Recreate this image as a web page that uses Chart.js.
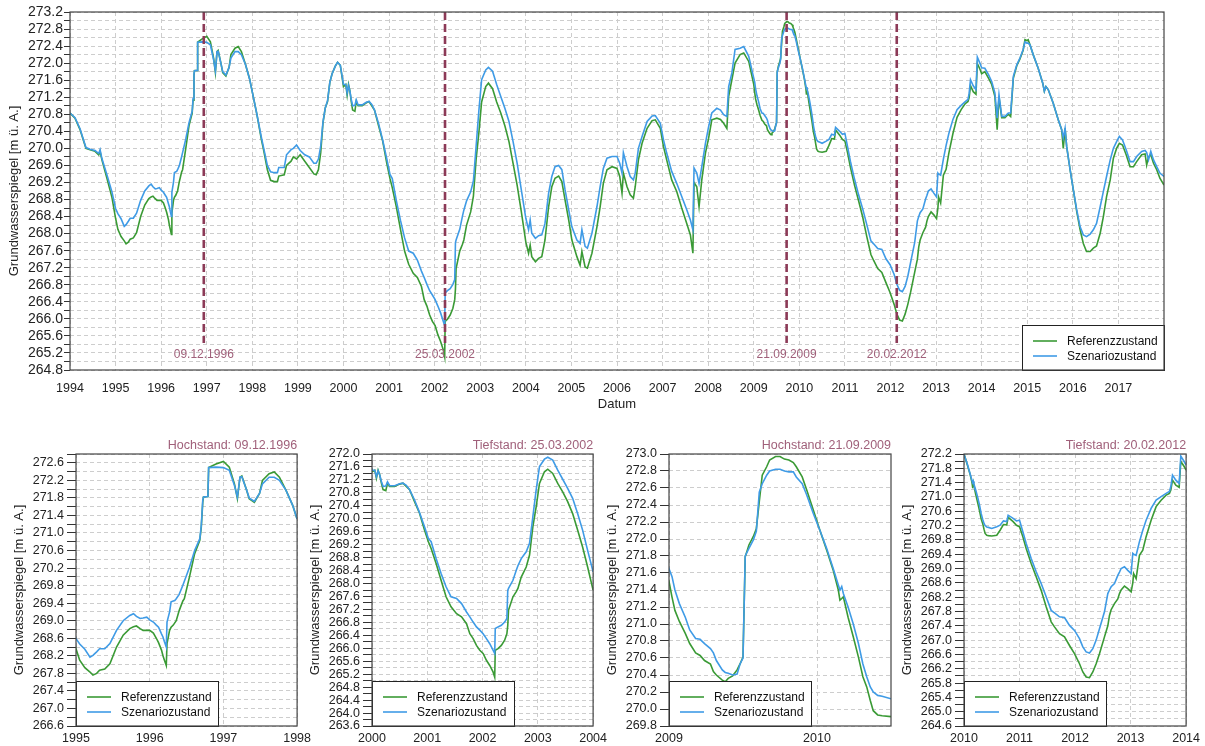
<!DOCTYPE html>
<html><head><meta charset="utf-8">
<script src="https://cdn.jsdelivr.net/npm/chart.js@4.4.1/dist/chart.umd.min.js"></script>
<style>
html,body{margin:0;padding:0;background:#fff;}
body{width:1205px;height:746px;position:relative;overflow:hidden;}
canvas{position:absolute;}
</style></head><body>
<canvas id="main" style="left:0px;top:0px" width="1205" height="420"></canvas>
<canvas id="p0" style="left:0px;top:430px" width="316" height="316"></canvas>
<canvas id="p1" style="left:296px;top:430px" width="316" height="316"></canvas>
<canvas id="p2" style="left:593px;top:430px" width="316" height="316"></canvas>
<canvas id="p3" style="left:888px;top:430px" width="317" height="316"></canvas>
<script>
// ---------------- DATA ----------------
const seriesNames = ['Referenzzustand', 'Szenariozustand'];
const yTitle = 'Grundwasserspiegel [m ü. A.]';
const xTitle = 'Datum';

const dates = [
1994.00,1994.11,1994.22,1994.29,1994.35,1994.44,1994.55,1994.63,1994.66,1994.70,1994.81,1994.92,
1995.00,1995.05,1995.12,1995.19,1995.23,1995.28,1995.32,1995.39,1995.46,1995.55,1995.64,1995.73,1995.78,1995.82,1995.87,1995.91,1995.96,
1996.00,1996.05,1996.09,1996.12,1996.16,1996.18,1996.20,1996.225,1996.235,1996.27,1996.29,1996.32,1996.34,1996.36,1996.40,1996.45,1996.47,1996.54,1996.61,1996.68,1996.70,1996.72,1996.73,1996.79,1996.80,1996.90,
1997.00,1997.08,1997.15,1997.19,1997.225,1997.25,1997.31,1997.35,1997.42,1997.49,1997.53,1997.62,1997.69,1997.76,1997.85,1997.94,
1998.00,1998.10,1998.20,1998.25,1998.33,1998.40,1998.48,1998.55,1998.58,1998.70,1998.75,1998.85,1998.90,1998.97,
1999.05,1999.15,1999.25,1999.35,1999.40,1999.45,1999.50,1999.55,1999.60,1999.65,1999.70,1999.75,1999.82,1999.87,1999.93,
2000.00,2000.05,2000.08,2000.11,2000.14,2000.17,2000.20,2000.25,2000.28,2000.32,2000.41,2000.50,2000.56,2000.62,2000.68,2000.77,2000.86,2000.95,
2001.02,2001.07,2001.16,2001.25,2001.34,2001.43,2001.53,2001.62,2001.71,2001.77,2001.83,2001.89,2001.95,
2002.01,2002.07,2002.13,2002.19,2002.22,2002.23,2002.28,2002.34,2002.40,2002.44,2002.456,2002.47,2002.55,2002.61,2002.64,2002.70,2002.79,2002.85,2002.91,2002.97,
2003.03,2003.12,2003.18,2003.27,2003.36,2003.45,2003.54,2003.63,2003.72,2003.81,2003.90,
2004.00,2004.06,2004.095,2004.13,2004.21,2004.28,2004.35,2004.42,2004.50,2004.57,2004.64,2004.72,2004.79,2004.86,2004.94,
2005.01,2005.12,2005.19,2005.23,2005.30,2005.35,2005.45,2005.56,2005.63,2005.70,2005.78,2005.89,
2006.00,2006.06,2006.11,2006.14,2006.22,2006.29,2006.36,2006.40,2006.47,2006.55,2006.66,2006.77,2006.84,2006.95,
2007.02,2007.09,2007.20,2007.31,2007.42,2007.53,2007.61,2007.665,2007.69,2007.75,2007.80,2007.86,2007.94,
2008.01,2008.08,2008.19,2008.27,2008.34,2008.41,2008.45,2008.52,2008.59,2008.70,2008.78,2008.89,
2009.00,2009.02,2009.04,2009.07,2009.11,2009.14,2009.18,2009.21,2009.24,2009.28,2009.30,2009.32,2009.36,2009.38,2009.40,2009.43,2009.46,2009.48,2009.50,2009.515,2009.54,2009.57,2009.59,2009.61,2009.63,2009.66,2009.68,2009.72,2009.75,2009.78,2009.81,2009.84,2009.86,2009.90,2009.93,2009.975,
2010.02,2010.065,2010.11,2010.144,2010.155,2010.167,2010.178,2010.21,2010.245,2010.28,2010.31,2010.336,2010.36,2010.38,2010.41,2010.44,2010.50,2010.59,2010.65,2010.71,2010.77,2010.795,2010.885,2010.945,
2011.00,2011.06,2011.12,2011.21,2011.30,2011.39,2011.48,2011.57,2011.63,2011.72,2011.81,2011.90,2011.99,
2012.08,2012.14,2012.20,2012.26,2012.32,2012.38,2012.44,2012.53,2012.59,2012.62,2012.65,2012.71,2012.77,2012.80,2012.83,2012.89,2012.95,
2013.01,2013.04,2013.055,2013.10,2013.16,2013.22,2013.28,2013.37,2013.46,2013.55,2013.64,2013.70,2013.725,2013.755,2013.815,2013.875,2013.905,2013.965,
2014.00,2014.07,2014.15,2014.22,2014.29,2014.34,2014.38,2014.44,2014.51,2014.585,2014.636,2014.695,2014.77,2014.84,2014.91,2014.95,2014.99,
2015.02,2015.06,2015.13,2015.24,2015.34,2015.375,2015.41,2015.46,2015.57,2015.68,2015.755,2015.79,2015.83,2015.865,2015.94,
2016.01,2016.085,2016.16,2016.23,2016.30,2016.38,2016.45,2016.52,2016.60,2016.67,2016.74,2016.82,2016.89,2016.96,
2017.02,2017.09,2017.17,2017.255,2017.33,2017.40,2017.51,2017.585,2017.62,2017.66,2017.71,2017.77,2017.84,2017.91,
2018.00
];

const refLevel = [
270.83,270.71,270.44,270.20,270.00,269.97,269.93,269.85,269.93,269.73,269.30,268.85,
268.36,268.10,267.93,267.83,267.76,267.80,267.87,267.90,268.02,268.40,268.67,268.82,268.86,268.88,268.82,268.78,268.78,
268.78,268.72,268.60,268.50,268.33,268.20,268.10,267.98,268.48,268.78,268.85,268.90,268.95,269.00,269.23,269.45,269.50,270.00,270.53,270.83,271.13,271.70,271.82,271.83,272.49,272.57,
272.63,272.50,272.12,271.78,272.27,272.30,272.00,271.78,271.70,271.90,272.20,272.35,272.39,272.27,271.97,271.63,
271.32,270.80,270.20,269.95,269.50,269.25,269.22,269.22,269.35,269.38,269.60,269.70,269.80,269.75,
269.85,269.70,269.55,269.40,269.38,269.50,269.90,270.60,270.95,271.10,271.55,271.75,271.93,272.02,271.95,
271.45,271.50,271.25,271.50,271.35,271.10,270.90,270.87,271.10,271.00,271.00,271.07,271.10,271.00,270.90,270.53,270.17,269.65,
269.29,269.08,268.62,268.10,267.59,267.28,267.07,266.97,266.76,266.45,266.30,266.09,265.94,
265.84,265.63,265.47,265.27,265.11,265.94,265.99,266.09,266.25,266.45,266.70,267.18,267.59,267.75,267.85,268.20,268.51,268.88,269.75,270.37,
271.09,271.45,271.53,271.40,271.09,270.83,270.53,270.16,269.65,269.13,268.52,
267.80,267.54,267.73,267.46,267.34,267.42,267.46,267.85,268.63,269.10,269.30,269.35,269.22,268.79,268.32,
267.85,267.46,267.26,267.58,267.22,267.19,267.54,268.16,268.63,269.18,269.50,269.57,
269.53,269.34,268.95,269.42,269.10,268.91,268.83,269.10,269.73,270.12,270.47,270.65,270.67,270.47,
270.04,269.73,269.26,268.99,268.60,268.24,267.97,267.54,269.20,269.10,268.63,269.26,269.89,
270.24,270.67,270.71,270.68,270.59,270.47,271.22,271.61,272.00,272.20,272.24,272.04,
271.50,271.32,271.16,271.03,270.89,270.77,270.66,270.63,270.57,270.53,270.44,270.40,270.34,270.32,270.36,270.39,270.46,270.53,270.61,271.79,271.93,272.03,272.12,272.44,272.75,272.85,272.93,272.97,272.97,272.94,272.93,272.90,272.85,272.73,272.58,272.34,
272.10,271.87,271.63,271.40,271.28,271.30,271.32,271.08,270.85,270.61,270.38,270.26,270.10,269.98,269.93,269.92,269.91,269.93,270.07,270.23,270.22,270.43,270.31,270.21,
270.17,269.89,269.56,269.14,268.77,268.39,267.93,267.51,267.37,267.18,267.09,266.85,266.62,
266.34,266.11,265.97,265.95,266.11,266.34,266.62,267.09,267.40,267.69,267.85,268.02,268.15,268.30,268.40,268.51,268.44,
268.35,268.60,268.86,268.72,269.37,269.51,269.89,270.35,270.73,270.91,271.05,271.10,271.19,271.47,271.33,271.27,271.99,271.85,
271.75,271.80,271.65,271.50,271.22,270.44,271.20,270.72,270.72,270.80,270.75,271.65,271.94,272.10,272.30,272.55,272.53,
272.55,272.43,272.20,271.88,271.53,271.34,271.45,271.38,271.06,270.67,270.44,270.00,270.47,270.04,269.50,
269.03,268.52,268.09,267.77,267.58,267.58,267.66,267.71,268.01,268.40,268.87,269.26,269.77,270.00,
270.12,270.08,269.85,269.57,269.57,269.69,269.85,269.87,269.61,269.80,269.85,269.65,269.50,269.30,
269.14
];

const szenLevel = [
270.83,270.72,270.46,270.22,270.02,269.98,269.95,269.88,269.97,269.76,269.38,268.98,
268.59,268.47,268.35,268.17,268.21,268.29,268.36,268.36,268.48,268.78,269.00,269.12,269.16,269.10,269.05,269.06,269.08,
269.02,268.97,268.90,268.85,268.70,268.63,268.52,268.40,268.97,269.20,269.43,269.45,269.46,269.50,269.60,269.81,269.90,270.22,270.60,270.87,271.17,271.75,271.82,271.83,272.49,272.50,
272.49,272.43,272.08,271.82,272.27,272.28,272.00,271.80,271.72,271.90,272.12,272.27,272.27,272.20,271.97,271.63,
271.32,270.80,270.25,270.00,269.60,269.45,269.43,269.43,269.55,269.55,269.85,269.97,270.00,270.08,
269.95,269.85,269.80,269.65,269.65,269.75,270.05,270.62,270.95,271.12,271.55,271.75,271.93,272.02,271.95,
271.50,271.50,271.30,271.48,271.35,271.15,271.00,271.01,271.14,271.02,271.02,271.08,271.10,271.03,270.90,270.58,270.19,269.75,
269.39,269.29,268.77,268.31,267.90,267.59,267.54,267.38,267.12,266.97,266.81,266.66,266.56,
266.45,266.30,266.14,265.94,265.84,266.61,266.66,266.71,266.81,266.92,267.79,267.85,268.10,268.41,268.55,268.77,268.98,269.24,270.06,270.89,
271.61,271.84,271.90,271.81,271.50,271.22,270.94,270.63,270.16,269.65,269.03,
268.36,268.09,268.32,268.01,267.89,267.95,267.97,268.24,268.95,269.34,269.57,269.60,269.50,269.03,268.56,
268.16,267.85,267.77,268.09,267.70,267.66,268.01,268.63,269.10,269.53,269.77,269.81,
269.81,269.65,269.42,269.90,269.57,269.34,269.26,269.42,270.00,270.28,270.63,270.76,270.77,270.59,
270.20,269.89,269.46,269.18,268.87,268.56,268.32,268.09,269.54,269.42,269.18,269.57,270.12,
270.51,270.83,270.94,270.90,270.79,270.75,271.45,271.77,272.32,272.35,272.39,272.16,
271.65,271.56,271.40,271.24,271.08,270.93,270.83,270.82,270.77,270.71,270.66,270.57,270.46,270.43,270.42,270.40,270.41,270.53,270.60,271.80,271.89,271.99,272.09,272.55,272.65,272.75,272.80,272.82,272.82,272.80,272.79,272.79,272.73,272.65,272.52,272.30,
272.10,271.89,271.65,271.46,271.40,271.44,271.36,271.20,271.00,270.77,270.53,270.38,270.26,270.20,270.16,270.15,270.12,270.17,270.21,270.33,270.31,270.49,270.40,270.33,
270.35,270.03,269.70,269.28,268.91,268.58,268.21,267.83,267.76,267.65,267.63,267.41,267.27,
267.04,266.81,266.67,266.64,266.76,267.00,267.32,267.79,268.30,268.40,268.49,268.58,268.81,268.90,269.00,269.05,268.95,
268.86,269.42,269.40,269.37,269.75,270.07,270.35,270.68,270.91,271.01,271.10,271.15,271.29,271.61,271.47,271.38,272.14,271.99,
271.89,271.88,271.73,271.57,271.30,270.71,271.26,270.75,270.75,270.83,270.83,271.69,271.96,272.12,272.32,272.50,272.47,
272.47,272.43,272.20,271.88,271.53,271.34,271.45,271.38,271.06,270.67,270.44,270.25,270.47,270.04,269.50,
269.03,268.56,268.16,267.97,267.93,267.99,268.09,268.24,268.63,268.99,269.34,269.73,270.00,270.16,
270.28,270.20,269.97,269.69,269.69,269.81,269.93,269.95,269.90,269.73,269.93,269.73,269.57,269.42,
269.34
];

const eventDates = [1996.935, 2002.227, 2009.721, 2012.137];
const eventLabels = ['09.12.1996', '25.03.2002', '21.09.2009', '20.02.2012'];
const panelTitles = ['Hochstand: 09.12.1996', 'Tiefstand: 25.03.2002', 'Hochstand: 21.09.2009', 'Tiefstand: 20.02.2012'];

const mainYears = [1994,1995,1996,1997,1998,1999,2000,2001,2002,2003,2004,2005,2006,2007,2008,2009,2010,2011,2012,2013,2014,2015,2016,2017];
const mainXRange = [1994, 2018];
const mainYRange = [264.8, 273.2];

const panelYears = [[1995,1996,1997,1998],[2000,2001,2002,2003,2004],[2009,2010],[2010,2011,2012,2013,2014]];
const panelXRange = [[1995,1998],[2000,2004],[2009,2010.5],[2010,2014]];
const panelYRange = [[266.6,272.8],[263.6,272.0],[269.8,273.0],[264.6,272.2]];
const panelYLabelEvery = [2, 2, 1, 2];

// ---------------- STYLE ----------------
const GREEN = '#3a9a35';
const BLUE = '#3f9be6';
const GRID = '#cdcdcd';
const EVENT = '#8c3a57';
const EVENT_TXT = '#a0607a';
const FONT = '"Liberation Sans", Arial, sans-serif';
Chart.defaults.font.family = FONT;
Chart.defaults.color = '#222';

function makeTicks(min, max, step) {
  const n = Math.round((max - min) / step);
  const out = [];
  for (let i = 0; i <= n; i++) out.push(+(min + i * step).toFixed(2));
  return out;
}

function datasets() {
  const mk = (label, values, color) => ({
    label, data: dates.map((d, i) => ({x: d, y: values[i]})),
    borderColor: color, borderWidth: 1.6, pointRadius: 0, tension: 0, fill: false
  });
  return [mk(seriesNames[1], szenLevel, BLUE), mk(seriesNames[0], refLevel, GREEN)];
}

const decoPlugin = {
  id: 'deco',
  afterDatasetsDraw(chart, args, o) {
    const {ctx, chartArea: a, scales} = chart;
    ctx.save();
    if (o.events) {
      eventDates.forEach((d, i) => {
        const x = scales.x.getPixelForValue(d);
        ctx.strokeStyle = EVENT; ctx.lineWidth = 2.6; ctx.setLineDash([8, 4]);
        ctx.beginPath(); ctx.moveTo(x, a.top); ctx.lineTo(x, a.bottom - 27); ctx.stroke();
        ctx.setLineDash([]);
        ctx.fillStyle = EVENT_TXT; ctx.font = '12px ' + FONT;
        ctx.textAlign = 'center'; ctx.textBaseline = 'middle';
        ctx.fillText(eventLabels[i], x, a.bottom - 15);
      });
    }
    if (o.title) {
      ctx.fillStyle = EVENT_TXT; ctx.font = '12.5px ' + FONT;
      ctx.textAlign = 'right'; ctx.textBaseline = 'middle';
      ctx.fillText(o.title, a.right, a.top - 8);
    }
    // legend
    const w = 142, h = 45;
    const x0 = o.legend === 'br' ? a.right - w : a.left;
    const y0 = a.bottom - h;
    ctx.fillStyle = '#fff'; ctx.fillRect(x0, y0, w, h);
    ctx.strokeStyle = '#222'; ctx.lineWidth = 1;
    ctx.strokeRect(Math.round(x0) + 0.5, Math.round(y0) + 0.5, w, h);
    const entries = [[seriesNames[0], GREEN], [seriesNames[1], BLUE]];
    entries.forEach((e, i) => {
      const yy = y0 + 16 + i * 15;
      ctx.strokeStyle = e[1]; ctx.lineWidth = 1.6;
      ctx.beginPath(); ctx.moveTo(x0 + 11, yy); ctx.lineTo(x0 + 35, yy); ctx.stroke();
      ctx.fillStyle = '#111'; ctx.font = '12px ' + FONT;
      ctx.textAlign = 'left'; ctx.textBaseline = 'middle';
      ctx.fillText(e[0], x0 + 45, yy + 0.5);
    });
    // frame
    ctx.strokeStyle = '#444'; ctx.lineWidth = 1.2;
    ctx.strokeRect(a.left, a.top, a.right - a.left, a.bottom - a.top);
    ctx.restore();
  }
};

function makeChart(id, cfg) {
  const yTicks = makeTicks(cfg.yRange[0], cfg.yRange[1], cfg.yStep);
  return new Chart(document.getElementById(id), {
    type: 'line',
    data: {datasets: datasets()},
    plugins: [decoPlugin],
    options: {
      responsive: false, animation: false, devicePixelRatio: 1,
      parsing: false, normalized: true,
      layout: {padding: cfg.padding},
      plugins: {
        legend: {display: false}, tooltip: {enabled: false},
        deco: {events: cfg.events, title: cfg.title, legend: cfg.legend}
      },
      scales: {
        x: {
          type: 'linear', min: cfg.xRange[0], max: cfg.xRange[1],
          afterBuildTicks: s => { s.ticks = cfg.years.map(v => ({value: v})); },
          ticks: {autoSkip: false, maxRotation: 0, minRotation: 0, padding: cfg.xPad,
                  font: {size: cfg.xFont}, color: '#222', callback: v => String(v)},
          grid: {color: GRID, lineWidth: 1, drawTicks: false},
          border: {display: false, dash: [4, 3]},
          title: cfg.xTitle ? {display: true, text: xTitle, font: {size: 13}, color: '#222',
                               padding: {top: 0, bottom: 8}} : {display: false},
          afterFit: s => { s.height = cfg.xHeight; }
        },
        y: {
          type: 'linear', min: cfg.yRange[0], max: cfg.yRange[1],
          afterBuildTicks: s => { s.ticks = yTicks.map(v => ({value: v})); },
          ticks: {autoSkip: false, padding: cfg.yPad, font: {size: cfg.yFont}, color: '#222',
                  callback: (v, i) => (i % cfg.labelEvery === 0 ? v.toFixed(1) : '')},
          grid: {color: GRID, lineWidth: 1, tickColor: '#333', tickLength: cfg.tickLen,
                 tickWidth: 1, tickBorderDash: [1, 0]},
          border: {display: false, dash: [4, 3]},
          title: {display: true, text: yTitle, font: {size: 13}, color: '#222',
                  padding: {top: cfg.yTitlePad, bottom: 0}},
          afterFit: s => { s.width = cfg.yWidth; }
        }
      }
    }
  });
}

makeChart('main', {
  xRange: mainXRange, years: mainYears, yRange: mainYRange, yStep: 0.2, labelEvery: 2,
  padding: {left: 0, right: 41, top: 12, bottom: 0},
  xPad: 11, xFont: 12.5, xHeight: 50, xTitle: true,
  yPad: 1, yFont: 14, tickLen: 6, yWidth: 70, yTitlePad: 7,
  events: true, title: null, legend: 'br'
});

for (let k = 0; k < 4; k++) {
  makeChart('p' + k, {
    xRange: panelXRange[k], years: panelYears[k], yRange: panelYRange[k], yStep: 0.2,
    labelEvery: panelYLabelEvery[k],
    padding: {left: 0, right: 18, top: 24, bottom: 0},
    xPad: 5, xFont: 12.5, xHeight: 20, xTitle: false,
    yPad: 3, yFont: 12.5, tickLen: 9, yWidth: 76, yTitlePad: 12,
    events: false, title: panelTitles[k], legend: 'bl'
  });
}
</script>
</body></html>
